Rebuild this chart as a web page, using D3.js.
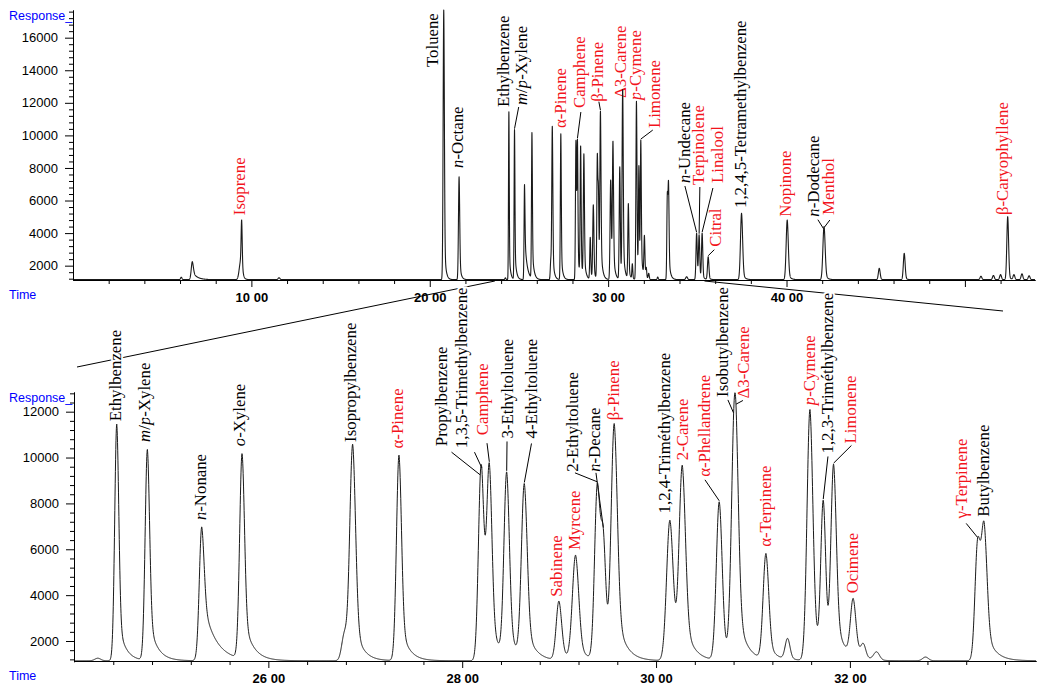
<!DOCTYPE html>
<html><head><meta charset="utf-8">
<script src="https://cdn.jsdelivr.net/npm/d3@7"></script>
<style>body{margin:0;background:#fff}svg{display:block}</style>
</head><body><svg id="c" width="1045" height="693"></svg>
<script>
// ---------------- DATA ----------------
// Peaks of the chromatogram: retention time (min), apex response,
// peak sigma (min), tail fraction and tail time constant (min)
const peakTimes     = [6.07, 6.69, 9.40, 9.456, 11.55, 20.785, 21.645,
  24.24, 24.436, 24.752, 25.313, 25.729, 26.785, 26.870, 27.348, 28.186, 28.203, 28.280,
  28.459, 28.641, 28.998, 29.170, 29.394, 29.456, 29.569, 30.143, 30.271, 30.652, 30.800,
  30.825, 31.134, 31.357, 31.588, 31.725, 31.832, 32.034, 32.138, 32.275, 32.780, 33.317,
  33.385, 34.40, 34.96, 35.10, 35.27, 35.61, 37.48, 40.04, 42.08, 42.12, 45.20, 46.60,
  50.90, 51.60, 52.00, 52.40, 52.75, 53.20, 53.60];
const peakResponses = [1290, 2245, 2760, 4804, 1260, 17700, 7464,
  1250, 11455, 10352, 6981, 10177, 2450, 10583, 10104, 9200, 9500, 9770,
  9377, 8870, 3743, 5747, 8898, 6910, 11485, 7272, 9668, 8071, 11900,
  12283, 5820, 2116, 12094, 8143, 9712, 3860, 1900, 1530, 1300, 6474,
  7199, 1320, 3987, 3900, 4000, 2550, 5214, 4804, 4200, 4294, 1837, 2758,
  1350, 1400, 1450, 5009, 1450, 1500, 1380];
const peakSigmas    = [0.04, 0.06, 0.08, 0.03, 0.05, 0.035, 0.035,
  0.03, 0.021, 0.023, 0.025, 0.025, 0.028, 0.03, 0.026, 0.026, 0.026, 0.027,
  0.028, 0.03, 0.028, 0.033, 0.028, 0.025, 0.032, 0.034, 0.033, 0.03, 0.03,
  0.03, 0.029, 0.025, 0.03, 0.025, 0.028, 0.028, 0.025, 0.03, 0.03, 0.027,
  0.03, 0.05, 0.035, 0.035, 0.035, 0.04, 0.06, 0.06, 0.06, 0.06, 0.05, 0.05,
  0.05, 0.05, 0.05, 0.05, 0.05, 0.05, 0.05];
const peakTailFrac  = [0, 0.45, 0.2, 0.2, 0, 0.2, 0.25,
  0, 0.21, 0.24, 0.5, 0.24, 0, 0.22, 0.22, 0.2, 0.2, 0.2,
  0.2, 0.22, 0.2, 0.2, 0.15, 0.1, 0.25, 0.15, 0.25, 0.15, 0.2,
  0.25, 0.2, 0.1, 0.2, 0.1, 0.25, 0.2, 0, 0, 0, 0.1,
  0.25, 0, 0.1, 0.1, 0.1, 0.1, 0.15, 0.15, 0.15, 0.15, 0.1, 0.1,
  0, 0, 0, 0.1, 0, 0, 0];
const peakTailTau   = [0.1, 0.25, 0.1, 0.08, 0.1, 0.08, 0.08,
  0.1, 0.07, 0.08, 0.125, 0.09, 0.1, 0.08, 0.08, 0.08, 0.08, 0.08,
  0.08, 0.09, 0.08, 0.08, 0.08, 0.08, 0.09, 0.08, 0.09, 0.08, 0.08,
  0.09, 0.08, 0.08, 0.08, 0.08, 0.09, 0.08, 0.08, 0.08, 0.08, 0.08,
  0.09, 0.1, 0.1, 0.1, 0.1, 0.1, 0.12, 0.12, 0.12, 0.12, 0.1, 0.1,
  0.1, 0.1, 0.1, 0.1, 0.1, 0.1, 0.1];
const baselineResponse = 1140;

// Axis ticks
const topYMajor = [2000, 4000, 6000, 8000, 10000, 12000, 14000, 16000];
const botYMajor = [2000, 4000, 6000, 8000, 10000, 12000];
const topXMajor = [10, 20, 30, 40, 50];
const topXLabelled = [10, 20, 30, 40];
const botXMajor = [26, 28, 30, 32];

// Compound labels: [name, peak time, terpene (red) flag, draw leader]
const topLabels = [
  ["Isoprene", 9.456, 1, 0], ["Toluene", 20.785, 0, 0], ["<i>n</i>-Octane", 21.645, 0, 0],
  ["Ethylbenzene", 24.436, 0, 0], ["<i>m</i>/<i>p</i>-Xylene", 24.752, 0, 1],
  ["α-Pinene", 27.348, 1, 0], ["Camphene", 28.280, 1, 1], ["β-Pinene", 29.569, 1, 1],
  ["Δ3-Carene", 30.825, 1, 0], ["<i>p</i>-Cymene", 31.588, 1, 0], ["Limonene", 31.832, 1, 1],
  ["<i>n</i>-Undecane", 34.96, 0, 1], ["Terpinolene", 35.10, 1, 1], ["Linalool", 35.27, 1, 1],
  ["Citral", 35.61, 1, 1], ["1,2,4,5-Tetramethylbenzene", 37.48, 0, 0], ["Nopinone", 40.04, 1, 0],
  ["<i>n</i>-Dodecane", 42.08, 0, 1], ["Menthol", 42.12, 1, 1], ["β-Caryophyllene", 52.40, 1, 0]
];
const bottomLabels = [
  ["Ethylbenzene", 24.436, 0, 0], ["<i>m</i>/<i>p</i>-Xylene", 24.752, 0, 0],
  ["<i>n</i>-Nonane", 25.313, 0, 0], ["<i>o</i>-Xylene", 25.729, 0, 0],
  ["Isopropylbenzene", 26.870, 0, 0], ["α-Pinene", 27.348, 1, 0],
  ["Propylbenzene", 28.186, 0, 1], ["1,3,5-Trimethylbenzene", 28.203, 0, 1],
  ["Camphene", 28.280, 1, 1], ["3-Ethyltoluene", 28.459, 0, 1], ["4-Ethyltoluene", 28.641, 0, 1],
  ["Sabinene", 28.998, 1, 0], ["Myrcene", 29.170, 1, 0], ["2-Ethyltoluene", 29.394, 0, 1],
  ["<i>n</i>-Decane", 29.456, 0, 1], ["β-Pinene", 29.569, 1, 0],
  ["1,2,4-Triméthylbenzene", 30.143, 0, 0], ["2-Carene", 30.271, 1, 0],
  ["α-Phellandrene", 30.652, 1, 1], ["Isobutylbenzene", 30.800, 0, 1], ["Δ3-Carene", 30.825, 1, 1],
  ["α-Terpinene", 31.134, 1, 0], ["<i>p</i>-Cymene", 31.588, 1, 0],
  ["1,2,3-Triméthylbenzene", 31.725, 0, 1], ["Limonene", 31.832, 1, 1], ["Ocimene", 32.034, 1, 0],
  ["γ-Terpinene", 33.317, 1, 1], ["Butylbenzene", 33.385, 0, 0]
];

// ---------------- LAYOUT (label anchors: time / response of the foot of each label, leader start offset px) ----------------
const topLabelAnchors = [
  [9.44, 5100], [20.25, 14200], [21.63, 8000], [24.23, 11750], [25.21, 11865, -4, 2],
  [27.40, 10450], [28.47, 11680, 0, 4], [29.48, 12070], [30.80, 12300], [31.61, 12170],
  [32.67, 10450, -3, 2], [34.36, 7076, -1, 3], [35.17, 6953, -0.5, 2], [36.21, 7076, -6, 5],
  [36.12, 3165, -3, 3], [37.50, 5541], [40.05, 5007], [41.59, 5007, 3, 3],
  [42.43, 5111, 0, 5], [52.19, 5111]
];
const bottomLabelAnchors = [
  [24.439, 11585], [24.739, 10683], [25.313, 7272], [25.718, 10496], [26.863, 10683],
  [27.345, 10396], [27.797, 10496, 9, 6], [28.003, 10409, 12, 4], [28.225, 10975, 3, 8],
  [28.483, 10832, -2, 3], [28.725, 10832, -1, 5], [28.991, 3930], [29.174, 5965],
  [29.153, 9376, 1, 1], [29.380, 9376, 0, 1], [29.576, 11629], [30.102, 7564], [30.288, 9886],
  [30.515, 9159, -1, 3], [30.700, 12644, 4, 3], [30.917, 12575, -2, 2], [31.144, 6109],
  [31.598, 12283], [31.784, 10178, -1, 3], [32.026, 10614, -1, 2], [32.041, 4078],
  [33.169, 7346, 3, 5], [33.392, 7416]
];

// ---------------- MODEL ----------------
const N = peakTimes.length;
function shape(j, t) {
  const dt = t - peakTimes[j], s = peakSigmas[j];
  const gs = Math.exp(-0.5 * dt * dt / (s * s));
  if (dt < 0) return gs;
  return (1 - peakTailFrac[j]) * gs + peakTailFrac[j] * Math.exp(-dt / peakTailTau[j]);
}
// amplitudes so that the summed trace passes through each read apex response
const A = [], r = [];
for (let i = 0; i < N; i++) {
  A.push(peakTimes.map((_, j) => shape(j, peakTimes[i])));
  r.push(peakResponses[i] - baselineResponse);
}
for (let c = 0; c < N; c++) {
  let p = c;
  for (let k = c + 1; k < N; k++) if (Math.abs(A[k][c]) > Math.abs(A[p][c])) p = k;
  [A[c], A[p]] = [A[p], A[c]]; [r[c], r[p]] = [r[p], r[c]];
  for (let k = c + 1; k < N; k++) {
    const m = A[k][c] / A[c][c];
    if (!m) continue;
    for (let q = c; q < N; q++) A[k][q] -= m * A[c][q];
    r[k] -= m * r[c];
  }
}
const amp = new Array(N).fill(0);
for (let c = N - 1; c >= 0; c--) {
  let s = r[c];
  for (let q = c + 1; q < N; q++) s -= A[c][q] * amp[q];
  amp[c] = s / A[c][c];
}
for (let i = 0; i < N; i++) if (amp[i] < 0) amp[i] = 0;
function signal(t) {
  let v = baselineResponse;
  for (let j = 0; j < N; j++) {
    const dt = t - peakTimes[j];
    if (dt < -10 * peakSigmas[j] || dt > 15 * peakTailTau[j] + 10 * peakSigmas[j]) continue;
    v += amp[j] * shape(j, t);
  }
  return v;
}

// ---------------- DRAW ----------------
const svg = d3.select("#c");
const RED = "#f2141c", BLUE = "#0000ff", INK = "#1a1a1a";
const LFS = 16.8;

const topX = d3.scaleLinear().domain([0, 53.93]).range([73, 1035]);
const topY = d3.scaleLinear().domain([1120, 17700]).range([280, 10]);
const botX = d3.scaleLinear().domain([24, 33.92]).range([74.5, 1036]);
const botY = d3.scaleLinear().domain([1098, 12858]).range([661.7, 392]);

// zoom connector lines
const conn = svg.append("g").attr("stroke", "#000").attr("stroke-width", 1);
conn.append("line").attr("x1", topX(23.65)).attr("y1", 281).attr("x2", 77).attr("y2", 367);
conn.append("line").attr("x1", topX(35.4)).attr("y1", 281).attr("x2", 1003).attr("y2", 311);

function drawLabels(labels, anchors, xs, ys) {
  const g = svg.append("g").attr("font-family", "'Liberation Serif','Times New Roman',serif")
    .attr("font-size", LFS);
  const lg = svg.append("g").attr("stroke", "#000").attr("stroke-width", 1);
  labels.forEach((lab, i) => {
    const [name, pt, terp, lead] = lab;
    const [lt, lv, ldx = 0, ldy = 0] = anchors[i];
    const cx = xs(lt), by = ys(lv);
    const t = g.append("text")
      .attr("transform", `translate(${cx + 0.24 * LFS},${by}) rotate(-90)`)
      .attr("fill", terp ? RED : "#000")
      .attr("stroke", "#fff").attr("stroke-width", 4).attr("paint-order", "stroke")
      .attr("stroke-linejoin", "round");
    name.split(/(<i>.*?<\/i>)/).filter(s => s).forEach(part => {
      const it = part.startsWith("<i>");
      t.append("tspan").attr("font-style", it ? "italic" : null)
        .text(it ? part.slice(3, -4) : part);
    });
    if (lead) {
      lg.append("line").attr("x1", cx + ldx).attr("y1", by + ldy)
        .attr("x2", xs(pt)).attr("y2", ys(signal(pt)) - 1);
    }
  });
}
drawLabels(topLabels, topLabelAnchors, topX, topY);
drawLabels(bottomLabels, bottomLabelAnchors, botX, botY);

function drawTrace(xs, ys, t0, t1, step, clipId, top, sw) {
  const pts = d3.range(t0, t1 + step / 2, step).map(t => [t, signal(t)]);
  svg.append("clipPath").attr("id", clipId).append("rect")
    .attr("x", xs.range()[0]).attr("y", top).attr("width", xs.range()[1] - xs.range()[0])
    .attr("height", ys.range()[0] - top + 1);
  svg.append("path").datum(pts).attr("clip-path", `url(#${clipId})`)
    .attr("fill", "none").attr("stroke", INK).attr("stroke-width", sw)
    .attr("stroke-linejoin", "round")
    .attr("d", d3.line().x(d => xs(d[0])).y(d => ys(d[1])));
}
drawTrace(topX, topY, 0, 53.93, 0.004, "clipTop", 6, 1.1);
drawTrace(botX, botY, 24, 33.92, 0.002, "clipBot", 390, 1);

function drawAxes(xs, ys, yMajor, yMax, xMajor, xLab, xMinorStep) {
  const yMinor = d3.range(1200, yMax, 400).filter(v => !yMajor.includes(v));
  const x0 = Math.floor(xs.range()[0]), yb = Math.floor(ys.range()[0]);
  const ga = svg.append("g").attr("font-family", "'Liberation Sans',Arial,sans-serif");
  ga.append("g").attr("transform", `translate(${x0},0)`)
    .call(d3.axisLeft(ys).tickValues(yMinor).tickSize(4).tickSizeOuter(0).tickFormat(""));
  ga.append("g").attr("transform", `translate(${x0},0)`)
    .call(d3.axisLeft(ys).tickValues(yMajor).tickSize(8).tickPadding(7).tickSizeOuter(0)
      .tickFormat(d3.format("d")));
  const d0 = xs.domain()[0], d1 = xs.domain()[1];
  const xMinor = d3.range(Math.ceil(d0 / xMinorStep - 1e-6) * xMinorStep, d1, xMinorStep)
    .map(v => +v.toFixed(2)).filter(v => v > d0 + 1e-6 && !xMajor.some(m => Math.abs(m - v) < 1e-6));
  ga.append("g").attr("transform", `translate(0,${yb})`)
    .call(d3.axisBottom(xs).tickValues(xMinor).tickSize(4).tickSizeOuter(0).tickFormat(""));
  ga.append("g").attr("transform", `translate(0,${yb})`)
    .call(d3.axisBottom(xs).tickValues(xMajor).tickSize(7).tickPadding(6).tickSizeOuter(0)
      .tickFormat(d => xLab.includes(d) ? `${d} 00` : ""))
    .selectAll("text").attr("font-weight", "bold");
  ga.selectAll("text").attr("font-size", 13).attr("fill", "#000");
  ga.selectAll("path,line").attr("stroke", "#000");
  ga.append("text").attr("x", 9).attr("y", ys.range()[1] + 9.5).attr("fill", BLUE)
    .attr("font-size", 12.5).text("Response_");
  ga.append("text").attr("x", 9).attr("y", yb + 19).attr("fill", BLUE)
    .attr("font-size", 12.5).text("Time");
}
drawAxes(topX, topY, topYMajor, 17700, topXMajor, topXLabelled, 2);
drawAxes(botX, botY, botYMajor, 12858, botXMajor, botXMajor, 0.4);
</script></body></html>
